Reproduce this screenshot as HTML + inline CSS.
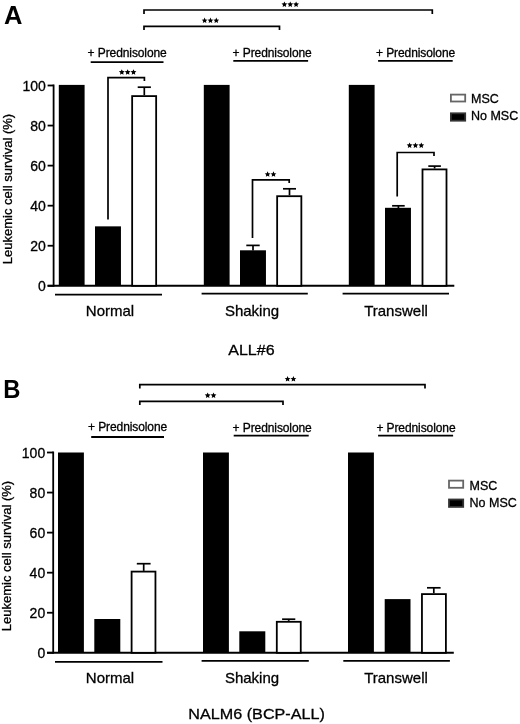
<!DOCTYPE html>
<html><head><meta charset="utf-8"><style>
html,body{margin:0;padding:0;background:#fff;}
svg{display:block;font-family:"Liberation Sans", sans-serif;filter:grayscale(100%);}
</style></head><body>
<svg width="520" height="724" viewBox="0 0 520 724" font-family='"Liberation Sans", sans-serif' fill="#000">
<rect width="520" height="724" fill="#fff"/>
<text x="4.00" y="24.00" font-size="25.5" text-anchor="start" font-weight="bold" >A</text>
<line x1="53.60" y1="84.50" x2="53.60" y2="286.70" stroke="#000" stroke-width="1.8"/>
<line x1="47.60" y1="285.80" x2="53.60" y2="285.80" stroke="#000" stroke-width="1.8"/>
<text x="45.80" y="290.80" font-size="14" text-anchor="end" font-weight="normal" stroke="#000" stroke-width="0.3" >0</text>
<line x1="47.60" y1="245.74" x2="53.60" y2="245.74" stroke="#000" stroke-width="1.8"/>
<text x="45.80" y="250.74" font-size="14" text-anchor="end" font-weight="normal" stroke="#000" stroke-width="0.3" >20</text>
<line x1="47.60" y1="205.68" x2="53.60" y2="205.68" stroke="#000" stroke-width="1.8"/>
<text x="45.80" y="210.68" font-size="14" text-anchor="end" font-weight="normal" stroke="#000" stroke-width="0.3" >40</text>
<line x1="47.60" y1="165.62" x2="53.60" y2="165.62" stroke="#000" stroke-width="1.8"/>
<text x="45.80" y="170.62" font-size="14" text-anchor="end" font-weight="normal" stroke="#000" stroke-width="0.3" >60</text>
<line x1="47.60" y1="125.56" x2="53.60" y2="125.56" stroke="#000" stroke-width="1.8"/>
<text x="45.80" y="130.56" font-size="14" text-anchor="end" font-weight="normal" stroke="#000" stroke-width="0.3" >80</text>
<line x1="47.60" y1="85.50" x2="53.60" y2="85.50" stroke="#000" stroke-width="1.8"/>
<text x="45.80" y="90.50" font-size="14" text-anchor="end" font-weight="normal" stroke="#000" stroke-width="0.3" >100</text>
<line x1="47.60" y1="285.80" x2="454.30" y2="285.80" stroke="#000" stroke-width="1.9"/>
<rect x="58.80" y="84.90" width="25.80" height="200.90" fill="#000"/>
<rect x="95.00" y="226.35" width="25.95" height="59.45" fill="#000"/>
<rect x="132.15" y="96.10" width="24.00" height="189.70" fill="#fff" stroke="#000" stroke-width="1.8"/>
<rect x="203.80" y="84.90" width="25.80" height="200.90" fill="#000"/>
<rect x="240.00" y="250.30" width="25.95" height="35.50" fill="#000"/>
<rect x="277.15" y="196.20" width="24.20" height="89.60" fill="#fff" stroke="#000" stroke-width="1.8"/>
<rect x="348.80" y="84.90" width="25.80" height="200.90" fill="#000"/>
<rect x="385.00" y="207.80" width="25.95" height="78.00" fill="#000"/>
<rect x="422.50" y="169.40" width="24.00" height="116.40" fill="#fff" stroke="#000" stroke-width="1.8"/>
<line x1="144.30" y1="87.20" x2="144.30" y2="95.20" stroke="#000" stroke-width="1.7"/>
<line x1="137.70" y1="87.20" x2="150.90" y2="87.20" stroke="#000" stroke-width="1.7"/>
<line x1="253.00" y1="245.40" x2="253.00" y2="250.40" stroke="#000" stroke-width="1.7"/>
<line x1="246.30" y1="245.40" x2="259.70" y2="245.40" stroke="#000" stroke-width="1.7"/>
<line x1="289.50" y1="188.80" x2="289.50" y2="195.30" stroke="#000" stroke-width="1.7"/>
<line x1="283.00" y1="188.80" x2="296.00" y2="188.80" stroke="#000" stroke-width="1.7"/>
<line x1="398.40" y1="205.80" x2="398.40" y2="208.00" stroke="#000" stroke-width="1.7"/>
<line x1="392.10" y1="205.80" x2="404.70" y2="205.80" stroke="#000" stroke-width="1.7"/>
<line x1="434.60" y1="166.10" x2="434.60" y2="168.50" stroke="#000" stroke-width="1.7"/>
<line x1="428.30" y1="166.10" x2="440.90" y2="166.10" stroke="#000" stroke-width="1.7"/>
<polyline points="144.00,14.00 144.00,10.00 432.30,10.00 432.30,14.00" fill="none" stroke="#000" stroke-width="1.7"/>
<polygon points="284.40,1.44 285.24,3.33 287.30,3.55 285.76,4.93 286.19,6.96 284.40,5.92 282.61,6.96 283.04,4.93 281.50,3.55 283.56,3.33" fill="#000"/>
<polygon points="290.25,1.44 291.09,3.33 293.15,3.55 291.61,4.93 292.04,6.96 290.25,5.92 288.46,6.96 288.89,4.93 287.35,3.55 289.41,3.33" fill="#000"/>
<polygon points="296.10,1.44 296.94,3.33 299.00,3.55 297.46,4.93 297.89,6.96 296.10,5.92 294.31,6.96 294.74,4.93 293.20,3.55 295.26,3.33" fill="#000"/>
<polyline points="144.00,30.00 144.00,26.30 279.50,26.30 279.50,30.00" fill="none" stroke="#000" stroke-width="1.7"/>
<polygon points="204.60,17.59 205.44,19.48 207.50,19.70 205.96,21.08 206.39,23.11 204.60,22.07 202.81,23.11 203.24,21.08 201.70,19.70 203.76,19.48" fill="#000"/>
<polygon points="210.45,17.59 211.29,19.48 213.35,19.70 211.81,21.08 212.24,23.11 210.45,22.07 208.66,23.11 209.09,21.08 207.55,19.70 209.61,19.48" fill="#000"/>
<polygon points="216.30,17.59 217.14,19.48 219.20,19.70 217.66,21.08 218.09,23.11 216.30,22.07 214.51,23.11 214.94,21.08 213.40,19.70 215.46,19.48" fill="#000"/>
<polyline points="108.00,219.60 108.00,77.70 144.40,77.70 144.40,81.00" fill="none" stroke="#000" stroke-width="1.7"/>
<polygon points="121.80,69.19 122.64,71.08 124.70,71.30 123.16,72.68 123.59,74.71 121.80,73.67 120.01,74.71 120.44,72.68 118.90,71.30 120.96,71.08" fill="#000"/>
<polygon points="127.65,69.19 128.49,71.08 130.55,71.30 129.01,72.68 129.44,74.71 127.65,73.67 125.86,74.71 126.29,72.68 124.75,71.30 126.81,71.08" fill="#000"/>
<polygon points="133.50,69.19 134.34,71.08 136.40,71.30 134.86,72.68 135.29,74.71 133.50,73.67 131.71,74.71 132.14,72.68 130.60,71.30 132.66,71.08" fill="#000"/>
<polyline points="252.50,238.00 252.50,179.80 289.20,179.80 289.20,183.00" fill="none" stroke="#000" stroke-width="1.7"/>
<polygon points="267.62,171.34 268.47,173.23 270.53,173.45 268.99,174.83 269.42,176.86 267.62,175.82 265.83,176.86 266.26,174.83 264.72,173.45 266.78,173.23" fill="#000"/>
<polygon points="273.48,171.34 274.32,173.23 276.38,173.45 274.84,174.83 275.27,176.86 273.48,175.82 271.68,176.86 272.11,174.83 270.57,173.45 272.63,173.23" fill="#000"/>
<polyline points="397.20,196.50 397.20,152.50 434.00,152.50 434.00,156.00" fill="none" stroke="#000" stroke-width="1.7"/>
<polygon points="409.60,142.44 410.44,144.33 412.50,144.55 410.96,145.93 411.39,147.96 409.60,146.92 407.81,147.96 408.24,145.93 406.70,144.55 408.76,144.33" fill="#000"/>
<polygon points="415.45,142.44 416.29,144.33 418.35,144.55 416.81,145.93 417.24,147.96 415.45,146.92 413.66,147.96 414.09,145.93 412.55,144.55 414.61,144.33" fill="#000"/>
<polygon points="421.30,142.44 422.14,144.33 424.20,144.55 422.66,145.93 423.09,147.96 421.30,146.92 419.51,147.96 419.94,145.93 418.40,144.55 420.46,144.33" fill="#000"/>
<text x="87.60" y="56.60" font-size="12" text-anchor="start" font-weight="normal" stroke="#000" stroke-width="0.3" textLength="79.2" lengthAdjust="spacing">+ Prednisolone</text>
<line x1="90.70" y1="62.10" x2="163.50" y2="62.10" stroke="#000" stroke-width="1.8"/>
<text x="232.60" y="56.80" font-size="12" text-anchor="start" font-weight="normal" stroke="#000" stroke-width="0.3" textLength="79.2" lengthAdjust="spacing">+ Prednisolone</text>
<line x1="233.30" y1="60.80" x2="308.10" y2="60.80" stroke="#000" stroke-width="1.8"/>
<text x="376.00" y="56.80" font-size="12" text-anchor="start" font-weight="normal" stroke="#000" stroke-width="0.3" textLength="79.2" lengthAdjust="spacing">+ Prednisolone</text>
<line x1="378.10" y1="60.80" x2="452.70" y2="60.80" stroke="#000" stroke-width="1.8"/>
<line x1="55.00" y1="294.70" x2="162.00" y2="294.70" stroke="#000" stroke-width="1.8"/>
<text x="110.00" y="316.00" font-size="15" text-anchor="middle" font-weight="normal" stroke="#000" stroke-width="0.3" >Normal</text>
<line x1="201.60" y1="293.60" x2="307.80" y2="293.60" stroke="#000" stroke-width="1.8"/>
<text x="252.00" y="316.00" font-size="15" text-anchor="middle" font-weight="normal" stroke="#000" stroke-width="0.3" >Shaking</text>
<line x1="342.60" y1="293.60" x2="449.00" y2="293.60" stroke="#000" stroke-width="1.8"/>
<text x="396.00" y="316.00" font-size="15" text-anchor="middle" font-weight="normal" stroke="#000" stroke-width="0.3" >Transwell</text>
<rect x="450.90" y="94.60" width="14.30" height="6.90" fill="#fff" stroke="#666" stroke-width="1.8"/>
<rect x="450.90" y="113.30" width="14.30" height="7.40" fill="#000" stroke="#333" stroke-width="1.8"/>
<text x="471.00" y="103.40" font-size="12.5" text-anchor="start" font-weight="normal" stroke="#000" stroke-width="0.3" >MSC</text>
<text x="471.00" y="120.40" font-size="12.5" text-anchor="start" font-weight="normal" stroke="#000" stroke-width="0.3" >No MSC</text>
<text x="0" y="0" font-size="13" text-anchor="middle" stroke="#000" stroke-width="0.3" transform="translate(12.20,189.00) rotate(-90)">Leukemic cell survival (%)</text>
<text x="251.40" y="355.00" font-size="15" text-anchor="middle" font-weight="normal" stroke="#000" stroke-width="0.3" textLength="46.3" lengthAdjust="spacingAndGlyphs">ALL#6</text>
<text x="3.30" y="397.70" font-size="25.5" text-anchor="start" font-weight="bold" textLength="17.2" lengthAdjust="spacingAndGlyphs">B</text>
<line x1="53.20" y1="451.50" x2="53.20" y2="653.70" stroke="#000" stroke-width="1.8"/>
<line x1="47.00" y1="652.80" x2="53.20" y2="652.80" stroke="#000" stroke-width="1.8"/>
<text x="45.20" y="657.80" font-size="14" text-anchor="end" font-weight="normal" stroke="#000" stroke-width="0.3" >0</text>
<line x1="47.00" y1="612.74" x2="53.20" y2="612.74" stroke="#000" stroke-width="1.8"/>
<text x="45.20" y="617.74" font-size="14" text-anchor="end" font-weight="normal" stroke="#000" stroke-width="0.3" >20</text>
<line x1="47.00" y1="572.68" x2="53.20" y2="572.68" stroke="#000" stroke-width="1.8"/>
<text x="45.20" y="577.68" font-size="14" text-anchor="end" font-weight="normal" stroke="#000" stroke-width="0.3" >40</text>
<line x1="47.00" y1="532.62" x2="53.20" y2="532.62" stroke="#000" stroke-width="1.8"/>
<text x="45.20" y="537.62" font-size="14" text-anchor="end" font-weight="normal" stroke="#000" stroke-width="0.3" >60</text>
<line x1="47.00" y1="492.56" x2="53.20" y2="492.56" stroke="#000" stroke-width="1.8"/>
<text x="45.20" y="497.56" font-size="14" text-anchor="end" font-weight="normal" stroke="#000" stroke-width="0.3" >80</text>
<line x1="47.00" y1="452.50" x2="53.20" y2="452.50" stroke="#000" stroke-width="1.8"/>
<text x="45.20" y="457.50" font-size="14" text-anchor="end" font-weight="normal" stroke="#000" stroke-width="0.3" >100</text>
<line x1="47.00" y1="652.80" x2="453.80" y2="652.80" stroke="#000" stroke-width="1.9"/>
<rect x="58.00" y="452.50" width="25.90" height="200.30" fill="#000"/>
<rect x="94.30" y="619.00" width="26.00" height="33.80" fill="#000"/>
<rect x="131.60" y="571.60" width="23.85" height="81.20" fill="#fff" stroke="#000" stroke-width="1.8"/>
<rect x="203.00" y="452.50" width="25.90" height="200.30" fill="#000"/>
<rect x="239.30" y="631.30" width="26.00" height="21.50" fill="#000"/>
<rect x="276.80" y="621.80" width="23.95" height="31.00" fill="#fff" stroke="#000" stroke-width="1.8"/>
<rect x="348.00" y="452.50" width="25.90" height="200.30" fill="#000"/>
<rect x="384.70" y="599.10" width="25.80" height="53.70" fill="#000"/>
<rect x="421.95" y="594.10" width="23.95" height="58.70" fill="#fff" stroke="#000" stroke-width="1.8"/>
<line x1="143.70" y1="563.70" x2="143.70" y2="570.90" stroke="#000" stroke-width="1.7"/>
<line x1="136.80" y1="563.70" x2="150.60" y2="563.70" stroke="#000" stroke-width="1.7"/>
<line x1="288.70" y1="619.20" x2="288.70" y2="620.90" stroke="#000" stroke-width="1.7"/>
<line x1="282.10" y1="619.20" x2="295.30" y2="619.20" stroke="#000" stroke-width="1.7"/>
<line x1="433.80" y1="587.80" x2="433.80" y2="593.20" stroke="#000" stroke-width="1.7"/>
<line x1="427.00" y1="587.80" x2="440.60" y2="587.80" stroke="#000" stroke-width="1.7"/>
<polyline points="139.80,388.50 139.80,384.60 425.00,384.60 425.00,388.50" fill="none" stroke="#000" stroke-width="1.7"/>
<polygon points="287.57,376.09 288.42,377.98 290.48,378.20 288.94,379.58 289.37,381.61 287.57,380.57 285.78,381.61 286.21,379.58 284.67,378.20 286.73,377.98" fill="#000"/>
<polygon points="293.43,376.09 294.27,377.98 296.33,378.20 294.79,379.58 295.22,381.61 293.43,380.57 291.63,381.61 292.06,379.58 290.52,378.20 292.58,377.98" fill="#000"/>
<polyline points="139.80,405.00 139.80,401.30 283.00,401.30 283.00,405.00" fill="none" stroke="#000" stroke-width="1.7"/>
<polygon points="207.67,392.44 208.52,394.33 210.58,394.55 209.04,395.93 209.47,397.96 207.67,396.92 205.88,397.96 206.31,395.93 204.77,394.55 206.83,394.33" fill="#000"/>
<polygon points="213.53,392.44 214.37,394.33 216.43,394.55 214.89,395.93 215.32,397.96 213.53,396.92 211.73,397.96 212.16,395.93 210.62,394.55 212.68,394.33" fill="#000"/>
<text x="88.00" y="431.30" font-size="12" text-anchor="start" font-weight="normal" stroke="#000" stroke-width="0.3" textLength="79.2" lengthAdjust="spacing">+ Prednisolone</text>
<line x1="91.20" y1="437.00" x2="164.00" y2="437.00" stroke="#000" stroke-width="1.8"/>
<text x="232.60" y="431.50" font-size="12" text-anchor="start" font-weight="normal" stroke="#000" stroke-width="0.3" textLength="79.2" lengthAdjust="spacing">+ Prednisolone</text>
<line x1="233.70" y1="435.60" x2="308.70" y2="435.60" stroke="#000" stroke-width="1.8"/>
<text x="376.40" y="431.50" font-size="12" text-anchor="start" font-weight="normal" stroke="#000" stroke-width="0.3" textLength="79.2" lengthAdjust="spacing">+ Prednisolone</text>
<line x1="378.10" y1="435.60" x2="453.10" y2="435.60" stroke="#000" stroke-width="1.8"/>
<line x1="55.00" y1="661.80" x2="162.50" y2="661.80" stroke="#000" stroke-width="1.8"/>
<text x="110.00" y="683.20" font-size="15" text-anchor="middle" font-weight="normal" stroke="#000" stroke-width="0.3" >Normal</text>
<line x1="201.60" y1="660.80" x2="308.80" y2="660.80" stroke="#000" stroke-width="1.8"/>
<text x="252.00" y="683.00" font-size="15" text-anchor="middle" font-weight="normal" stroke="#000" stroke-width="0.3" >Shaking</text>
<line x1="343.30" y1="660.90" x2="449.90" y2="660.90" stroke="#000" stroke-width="1.8"/>
<text x="396.00" y="683.20" font-size="15" text-anchor="middle" font-weight="normal" stroke="#000" stroke-width="0.3" >Transwell</text>
<rect x="449.00" y="480.60" width="14.20" height="7.20" fill="#fff" stroke="#666" stroke-width="1.8"/>
<rect x="449.00" y="499.50" width="14.20" height="7.40" fill="#000" stroke="#333" stroke-width="1.8"/>
<text x="469.60" y="489.60" font-size="12.5" text-anchor="start" font-weight="normal" stroke="#000" stroke-width="0.3" >MSC</text>
<text x="469.60" y="506.80" font-size="12.5" text-anchor="start" font-weight="normal" stroke="#000" stroke-width="0.3" >No MSC</text>
<text x="0" y="0" font-size="13" text-anchor="middle" stroke="#000" stroke-width="0.3" transform="translate(11.00,556.00) rotate(-90)">Leukemic cell survival (%)</text>
<text x="256.60" y="719.20" font-size="15" text-anchor="middle" font-weight="normal" stroke="#000" stroke-width="0.3" textLength="136.5" lengthAdjust="spacingAndGlyphs">NALM6 (BCP-ALL)</text>
</svg>
</body></html>
